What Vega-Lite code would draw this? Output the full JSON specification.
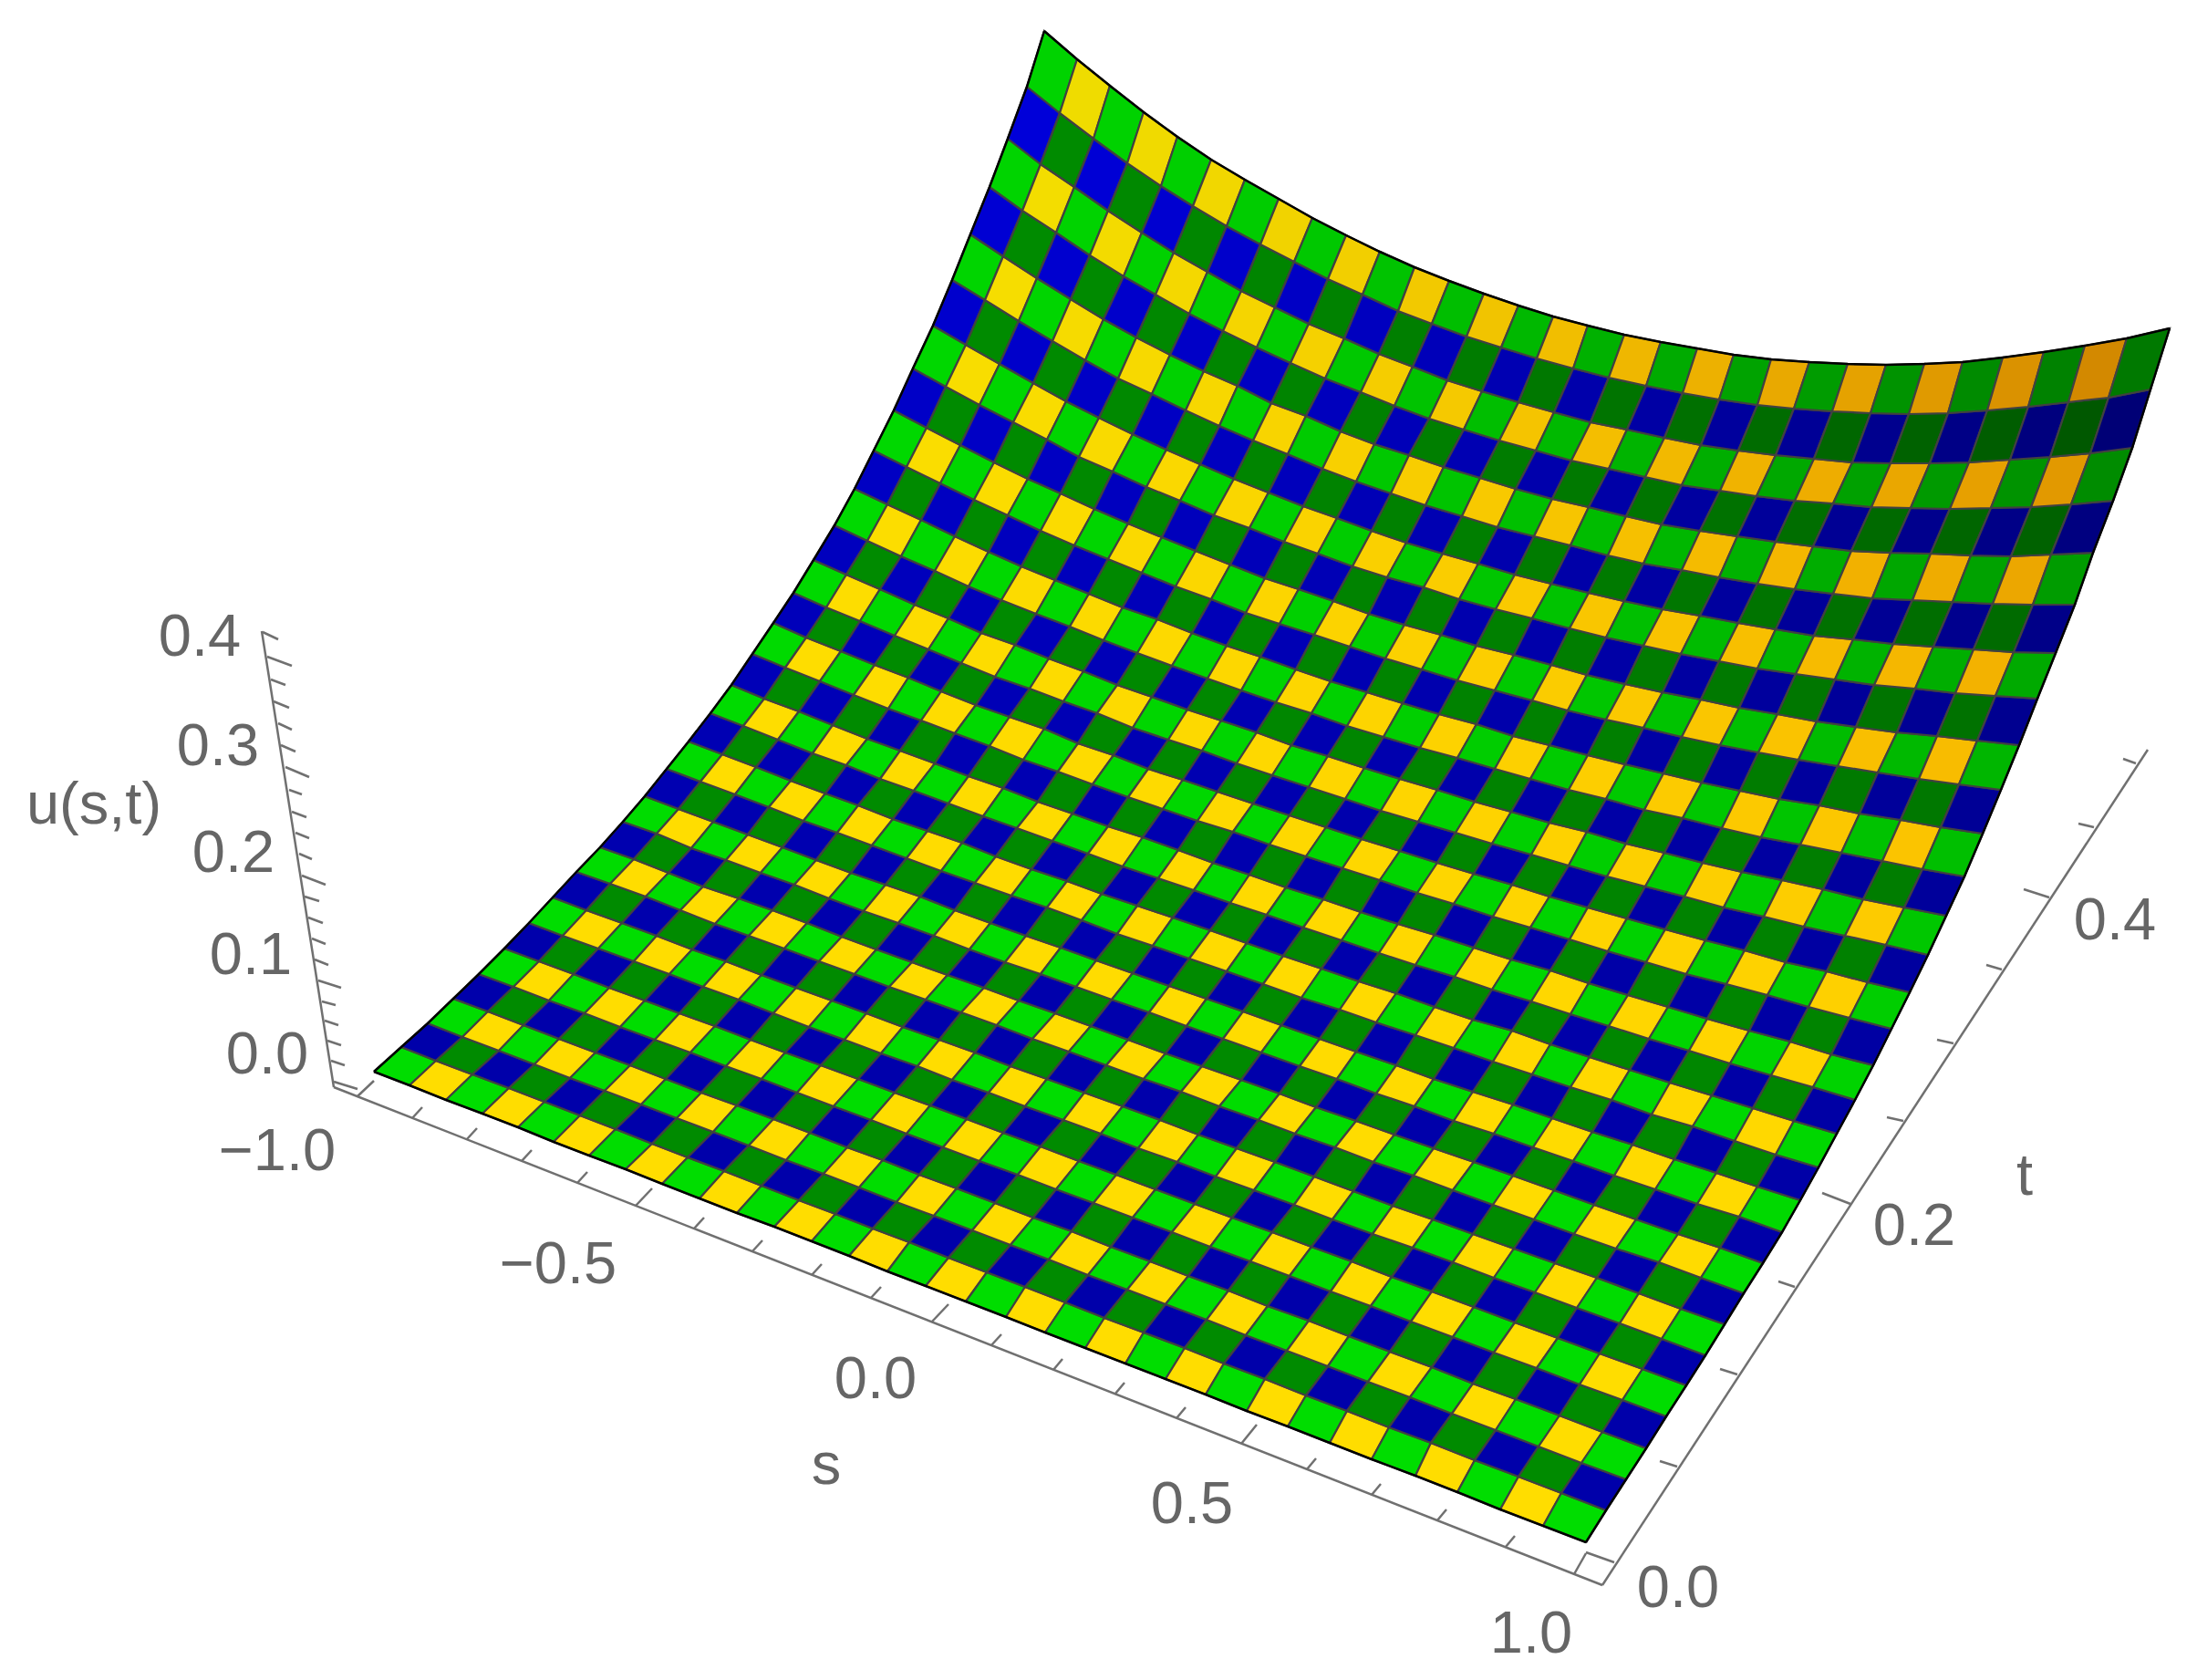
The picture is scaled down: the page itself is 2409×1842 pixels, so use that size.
{"$schema":"https://vega.github.io/schema/vega-lite/v6.json","width":2409,"height":1842,"padding":0,"autosize":{"type":"fit","contains":"padding"},"background":"white","config":{"view":{"stroke":null}},"datasets":{"mesh":[
{"s":0,"t":0,"x":410,"y":1175},{"s":1,"t":0,"x":449,"y":1190},{"s":2,"t":0,"x":489,"y":1206},{"s":3,"t":0,"x":529,"y":1221},{"s":4,"t":0,"x":568,"y":1236},{"s":5,"t":0,"x":607,"y":1252},{"s":6,"t":0,"x":646,"y":1267},{"s":7,"t":0,"x":686,"y":1282},{"s":8,"t":0,"x":726,"y":1298},{"s":9,"t":0,"x":767,"y":1314},{"s":10,"t":0,"x":808,"y":1330},{"s":11,"t":0,"x":849,"y":1345},{"s":12,"t":0,"x":890,"y":1361},{"s":13,"t":0,"x":931,"y":1377},{"s":14,"t":0,"x":973,"y":1394},{"s":15,"t":0,"x":1015,"y":1410},{"s":16,"t":0,"x":1059,"y":1427},{"s":17,"t":0,"x":1103,"y":1444},{"s":18,"t":0,"x":1146,"y":1461},{"s":19,"t":0,"x":1190,"y":1478},{"s":20,"t":0,"x":1234,"y":1495},{"s":21,"t":0,"x":1278,"y":1512},{"s":22,"t":0,"x":1322,"y":1529},{"s":23,"t":0,"x":1367,"y":1547},{"s":24,"t":0,"x":1412,"y":1564},{"s":25,"t":0,"x":1458,"y":1582},{"s":26,"t":0,"x":1504,"y":1600},{"s":27,"t":0,"x":1552,"y":1618},{"s":28,"t":0,"x":1598,"y":1636},{"s":29,"t":0,"x":1645,"y":1655},{"s":30,"t":0,"x":1692,"y":1673},{"s":31,"t":0,"x":1739,"y":1691},
{"s":0,"t":1,"x":440,"y":1148},{"s":1,"t":1,"x":478,"y":1163},{"s":2,"t":1,"x":518,"y":1178},{"s":3,"t":1,"x":558,"y":1193},{"s":4,"t":1,"x":597,"y":1208},{"s":5,"t":1,"x":636,"y":1223},{"s":6,"t":1,"x":675,"y":1238},{"s":7,"t":1,"x":715,"y":1254},{"s":8,"t":1,"x":754,"y":1269},{"s":9,"t":1,"x":794,"y":1284},{"s":10,"t":1,"x":835,"y":1300},{"s":11,"t":1,"x":876,"y":1316},{"s":12,"t":1,"x":916,"y":1331},{"s":13,"t":1,"x":957,"y":1347},{"s":14,"t":1,"x":997,"y":1362},{"s":15,"t":1,"x":1040,"y":1379},{"s":16,"t":1,"x":1082,"y":1395},{"s":17,"t":1,"x":1124,"y":1411},{"s":18,"t":1,"x":1168,"y":1428},{"s":19,"t":1,"x":1211,"y":1445},{"s":20,"t":1,"x":1254,"y":1461},{"s":21,"t":1,"x":1299,"y":1478},{"s":22,"t":1,"x":1342,"y":1495},{"s":23,"t":1,"x":1387,"y":1512},{"s":24,"t":1,"x":1432,"y":1530},{"s":25,"t":1,"x":1477,"y":1547},{"s":26,"t":1,"x":1523,"y":1565},{"s":27,"t":1,"x":1569,"y":1582},{"s":28,"t":1,"x":1617,"y":1601},{"s":29,"t":1,"x":1665,"y":1619},{"s":30,"t":1,"x":1712,"y":1637},{"s":31,"t":1,"x":1761,"y":1656},
{"s":0,"t":2,"x":469,"y":1122},{"s":1,"t":2,"x":507,"y":1137},{"s":2,"t":2,"x":547,"y":1152},{"s":3,"t":2,"x":586,"y":1167},{"s":4,"t":2,"x":625,"y":1182},{"s":5,"t":2,"x":663,"y":1196},{"s":6,"t":2,"x":703,"y":1211},{"s":7,"t":2,"x":742,"y":1226},{"s":8,"t":2,"x":782,"y":1241},{"s":9,"t":2,"x":821,"y":1256},{"s":10,"t":2,"x":862,"y":1272},{"s":11,"t":2,"x":903,"y":1287},{"s":12,"t":2,"x":942,"y":1302},{"s":13,"t":2,"x":983,"y":1318},{"s":14,"t":2,"x":1024,"y":1333},{"s":15,"t":2,"x":1066,"y":1349},{"s":16,"t":2,"x":1108,"y":1365},{"s":17,"t":2,"x":1150,"y":1381},{"s":18,"t":2,"x":1193,"y":1398},{"s":19,"t":2,"x":1236,"y":1414},{"s":20,"t":2,"x":1278,"y":1430},{"s":21,"t":2,"x":1323,"y":1447},{"s":22,"t":2,"x":1366,"y":1464},{"s":23,"t":2,"x":1411,"y":1481},{"s":24,"t":2,"x":1456,"y":1498},{"s":25,"t":2,"x":1500,"y":1515},{"s":26,"t":2,"x":1546,"y":1532},{"s":27,"t":2,"x":1592,"y":1550},{"s":28,"t":2,"x":1640,"y":1568},{"s":29,"t":2,"x":1687,"y":1586},{"s":30,"t":2,"x":1734,"y":1604},{"s":31,"t":2,"x":1783,"y":1622},
{"s":0,"t":3,"x":497,"y":1095},{"s":1,"t":3,"x":535,"y":1109},{"s":2,"t":3,"x":574,"y":1124},{"s":3,"t":3,"x":613,"y":1139},{"s":4,"t":3,"x":653,"y":1154},{"s":5,"t":3,"x":691,"y":1168},{"s":6,"t":3,"x":730,"y":1183},{"s":7,"t":3,"x":769,"y":1198},{"s":8,"t":3,"x":808,"y":1212},{"s":9,"t":3,"x":848,"y":1227},{"s":10,"t":3,"x":888,"y":1242},{"s":11,"t":3,"x":929,"y":1258},{"s":12,"t":3,"x":968,"y":1272},{"s":13,"t":3,"x":1008,"y":1288},{"s":14,"t":3,"x":1049,"y":1303},{"s":15,"t":3,"x":1091,"y":1319},{"s":16,"t":3,"x":1133,"y":1335},{"s":17,"t":3,"x":1175,"y":1350},{"s":18,"t":3,"x":1218,"y":1367},{"s":19,"t":3,"x":1261,"y":1383},{"s":20,"t":3,"x":1303,"y":1399},{"s":21,"t":3,"x":1347,"y":1415},{"s":22,"t":3,"x":1390,"y":1432},{"s":23,"t":3,"x":1435,"y":1448},{"s":24,"t":3,"x":1479,"y":1465},{"s":25,"t":3,"x":1524,"y":1482},{"s":26,"t":3,"x":1570,"y":1499},{"s":27,"t":3,"x":1615,"y":1517},{"s":28,"t":3,"x":1662,"y":1534},{"s":29,"t":3,"x":1710,"y":1552},{"s":30,"t":3,"x":1757,"y":1570},{"s":31,"t":3,"x":1805,"y":1588},
{"s":0,"t":4,"x":525,"y":1068},{"s":1,"t":4,"x":563,"y":1082},{"s":2,"t":4,"x":602,"y":1097},{"s":3,"t":4,"x":641,"y":1111},{"s":4,"t":4,"x":680,"y":1126},{"s":5,"t":4,"x":718,"y":1140},{"s":6,"t":4,"x":757,"y":1154},{"s":7,"t":4,"x":796,"y":1169},{"s":8,"t":4,"x":835,"y":1183},{"s":9,"t":4,"x":874,"y":1198},{"s":10,"t":4,"x":914,"y":1213},{"s":11,"t":4,"x":955,"y":1228},{"s":12,"t":4,"x":994,"y":1243},{"s":13,"t":4,"x":1034,"y":1258},{"s":14,"t":4,"x":1074,"y":1273},{"s":15,"t":4,"x":1116,"y":1288},{"s":16,"t":4,"x":1158,"y":1304},{"s":17,"t":4,"x":1199,"y":1319},{"s":18,"t":4,"x":1242,"y":1335},{"s":19,"t":4,"x":1285,"y":1351},{"s":20,"t":4,"x":1327,"y":1367},{"s":21,"t":4,"x":1371,"y":1383},{"s":22,"t":4,"x":1414,"y":1399},{"s":23,"t":4,"x":1459,"y":1416},{"s":24,"t":4,"x":1503,"y":1432},{"s":25,"t":4,"x":1547,"y":1449},{"s":26,"t":4,"x":1593,"y":1466},{"s":27,"t":4,"x":1638,"y":1483},{"s":28,"t":4,"x":1685,"y":1500},{"s":29,"t":4,"x":1732,"y":1518},{"s":30,"t":4,"x":1779,"y":1535},{"s":31,"t":4,"x":1827,"y":1553},
{"s":0,"t":5,"x":553,"y":1040},{"s":1,"t":5,"x":591,"y":1054},{"s":2,"t":5,"x":629,"y":1068},{"s":3,"t":5,"x":668,"y":1083},{"s":4,"t":5,"x":707,"y":1097},{"s":5,"t":5,"x":745,"y":1111},{"s":6,"t":5,"x":784,"y":1125},{"s":7,"t":5,"x":823,"y":1140},{"s":8,"t":5,"x":861,"y":1154},{"s":9,"t":5,"x":900,"y":1168},{"s":10,"t":5,"x":941,"y":1183},{"s":11,"t":5,"x":981,"y":1198},{"s":12,"t":5,"x":1020,"y":1212},{"s":13,"t":5,"x":1060,"y":1227},{"s":14,"t":5,"x":1100,"y":1242},{"s":15,"t":5,"x":1141,"y":1257},{"s":16,"t":5,"x":1183,"y":1273},{"s":17,"t":5,"x":1224,"y":1288},{"s":18,"t":5,"x":1267,"y":1304},{"s":19,"t":5,"x":1310,"y":1320},{"s":20,"t":5,"x":1351,"y":1335},{"s":21,"t":5,"x":1395,"y":1351},{"s":22,"t":5,"x":1438,"y":1367},{"s":23,"t":5,"x":1482,"y":1383},{"s":24,"t":5,"x":1526,"y":1400},{"s":25,"t":5,"x":1570,"y":1416},{"s":26,"t":5,"x":1616,"y":1433},{"s":27,"t":5,"x":1661,"y":1450},{"s":28,"t":5,"x":1708,"y":1467},{"s":29,"t":5,"x":1754,"y":1484},{"s":30,"t":5,"x":1801,"y":1501},{"s":31,"t":5,"x":1849,"y":1519},
{"s":0,"t":6,"x":580,"y":1012},{"s":1,"t":6,"x":617,"y":1026},{"s":2,"t":6,"x":656,"y":1040},{"s":3,"t":6,"x":695,"y":1054},{"s":4,"t":6,"x":734,"y":1068},{"s":5,"t":6,"x":771,"y":1082},{"s":6,"t":6,"x":810,"y":1096},{"s":7,"t":6,"x":848,"y":1111},{"s":8,"t":6,"x":887,"y":1126},{"s":9,"t":6,"x":926,"y":1140},{"s":10,"t":6,"x":966,"y":1155},{"s":11,"t":6,"x":1006,"y":1169},{"s":12,"t":6,"x":1044,"y":1184},{"s":13,"t":6,"x":1084,"y":1198},{"s":14,"t":6,"x":1124,"y":1213},{"s":15,"t":6,"x":1166,"y":1228},{"s":16,"t":6,"x":1207,"y":1243},{"s":17,"t":6,"x":1248,"y":1259},{"s":18,"t":6,"x":1291,"y":1274},{"s":19,"t":6,"x":1333,"y":1290},{"s":20,"t":6,"x":1375,"y":1305},{"s":21,"t":6,"x":1419,"y":1321},{"s":22,"t":6,"x":1461,"y":1337},{"s":23,"t":6,"x":1505,"y":1353},{"s":24,"t":6,"x":1549,"y":1368},{"s":25,"t":6,"x":1593,"y":1384},{"s":26,"t":6,"x":1638,"y":1401},{"s":27,"t":6,"x":1683,"y":1417},{"s":28,"t":6,"x":1729,"y":1434},{"s":29,"t":6,"x":1776,"y":1451},{"s":30,"t":6,"x":1822,"y":1468},{"s":31,"t":6,"x":1870,"y":1486},
{"s":0,"t":7,"x":606,"y":984},{"s":1,"t":7,"x":643,"y":998},{"s":2,"t":7,"x":682,"y":1012},{"s":3,"t":7,"x":720,"y":1026},{"s":4,"t":7,"x":759,"y":1041},{"s":5,"t":7,"x":796,"y":1054},{"s":6,"t":7,"x":835,"y":1069},{"s":7,"t":7,"x":873,"y":1083},{"s":8,"t":7,"x":912,"y":1097},{"s":9,"t":7,"x":950,"y":1111},{"s":10,"t":7,"x":990,"y":1126},{"s":11,"t":7,"x":1030,"y":1140},{"s":12,"t":7,"x":1069,"y":1154},{"s":13,"t":7,"x":1108,"y":1169},{"s":14,"t":7,"x":1148,"y":1183},{"s":15,"t":7,"x":1189,"y":1198},{"s":16,"t":7,"x":1231,"y":1213},{"s":17,"t":7,"x":1272,"y":1228},{"s":18,"t":7,"x":1314,"y":1244},{"s":19,"t":7,"x":1356,"y":1259},{"s":20,"t":7,"x":1398,"y":1274},{"s":21,"t":7,"x":1441,"y":1290},{"s":22,"t":7,"x":1484,"y":1306},{"s":23,"t":7,"x":1527,"y":1322},{"s":24,"t":7,"x":1571,"y":1337},{"s":25,"t":7,"x":1615,"y":1353},{"s":26,"t":7,"x":1660,"y":1369},{"s":27,"t":7,"x":1705,"y":1385},{"s":28,"t":7,"x":1751,"y":1401},{"s":29,"t":7,"x":1797,"y":1418},{"s":30,"t":7,"x":1843,"y":1435},{"s":31,"t":7,"x":1891,"y":1452},
{"s":0,"t":8,"x":632,"y":956},{"s":1,"t":8,"x":669,"y":969},{"s":2,"t":8,"x":708,"y":983},{"s":3,"t":8,"x":746,"y":998},{"s":4,"t":8,"x":784,"y":1013},{"s":5,"t":8,"x":821,"y":1026},{"s":6,"t":8,"x":860,"y":1040},{"s":7,"t":8,"x":898,"y":1054},{"s":8,"t":8,"x":937,"y":1068},{"s":9,"t":8,"x":975,"y":1082},{"s":10,"t":8,"x":1015,"y":1096},{"s":11,"t":8,"x":1054,"y":1110},{"s":12,"t":8,"x":1093,"y":1124},{"s":13,"t":8,"x":1132,"y":1139},{"s":14,"t":8,"x":1172,"y":1153},{"s":15,"t":8,"x":1213,"y":1168},{"s":16,"t":8,"x":1254,"y":1183},{"s":17,"t":8,"x":1295,"y":1197},{"s":18,"t":8,"x":1337,"y":1213},{"s":19,"t":8,"x":1380,"y":1228},{"s":20,"t":8,"x":1420,"y":1243},{"s":21,"t":8,"x":1464,"y":1258},{"s":22,"t":8,"x":1506,"y":1274},{"s":23,"t":8,"x":1550,"y":1289},{"s":24,"t":8,"x":1593,"y":1305},{"s":25,"t":8,"x":1637,"y":1321},{"s":26,"t":8,"x":1682,"y":1337},{"s":27,"t":8,"x":1726,"y":1353},{"s":28,"t":8,"x":1772,"y":1369},{"s":29,"t":8,"x":1819,"y":1384},{"s":30,"t":8,"x":1865,"y":1401},{"s":31,"t":8,"x":1912,"y":1418},
{"s":0,"t":9,"x":658,"y":929},{"s":1,"t":9,"x":695,"y":942},{"s":2,"t":9,"x":733,"y":957},{"s":3,"t":9,"x":771,"y":972},{"s":4,"t":9,"x":810,"y":985},{"s":5,"t":9,"x":847,"y":998},{"s":6,"t":9,"x":885,"y":1012},{"s":7,"t":9,"x":923,"y":1027},{"s":8,"t":9,"x":961,"y":1041},{"s":9,"t":9,"x":1000,"y":1055},{"s":10,"t":9,"x":1039,"y":1069},{"s":11,"t":9,"x":1079,"y":1083},{"s":12,"t":9,"x":1117,"y":1097},{"s":13,"t":9,"x":1157,"y":1111},{"s":14,"t":9,"x":1196,"y":1125},{"s":15,"t":9,"x":1237,"y":1140},{"s":16,"t":9,"x":1278,"y":1155},{"s":17,"t":9,"x":1318,"y":1169},{"s":18,"t":9,"x":1361,"y":1184},{"s":19,"t":9,"x":1403,"y":1199},{"s":20,"t":9,"x":1443,"y":1214},{"s":21,"t":9,"x":1487,"y":1229},{"s":22,"t":9,"x":1529,"y":1244},{"s":23,"t":9,"x":1572,"y":1259},{"s":24,"t":9,"x":1616,"y":1274},{"s":25,"t":9,"x":1659,"y":1289},{"s":26,"t":9,"x":1704,"y":1305},{"s":27,"t":9,"x":1748,"y":1321},{"s":28,"t":9,"x":1794,"y":1337},{"s":29,"t":9,"x":1840,"y":1353},{"s":30,"t":9,"x":1886,"y":1368},{"s":31,"t":9,"x":1933,"y":1385},
{"s":0,"t":10,"x":683,"y":901},{"s":1,"t":10,"x":720,"y":914},{"s":2,"t":10,"x":758,"y":930},{"s":3,"t":10,"x":796,"y":943},{"s":4,"t":10,"x":834,"y":957},{"s":5,"t":10,"x":871,"y":970},{"s":6,"t":10,"x":909,"y":985},{"s":7,"t":10,"x":947,"y":999},{"s":8,"t":10,"x":985,"y":1012},{"s":9,"t":10,"x":1024,"y":1026},{"s":10,"t":10,"x":1063,"y":1041},{"s":11,"t":10,"x":1102,"y":1055},{"s":12,"t":10,"x":1141,"y":1068},{"s":13,"t":10,"x":1180,"y":1082},{"s":14,"t":10,"x":1219,"y":1096},{"s":15,"t":10,"x":1260,"y":1110},{"s":16,"t":10,"x":1301,"y":1125},{"s":17,"t":10,"x":1341,"y":1139},{"s":18,"t":10,"x":1383,"y":1154},{"s":19,"t":10,"x":1425,"y":1169},{"s":20,"t":10,"x":1466,"y":1183},{"s":21,"t":10,"x":1509,"y":1199},{"s":22,"t":10,"x":1551,"y":1213},{"s":23,"t":10,"x":1594,"y":1229},{"s":24,"t":10,"x":1638,"y":1243},{"s":25,"t":10,"x":1681,"y":1258},{"s":26,"t":10,"x":1725,"y":1273},{"s":27,"t":10,"x":1770,"y":1289},{"s":28,"t":10,"x":1815,"y":1304},{"s":29,"t":10,"x":1861,"y":1320},{"s":30,"t":10,"x":1907,"y":1334},{"s":31,"t":10,"x":1954,"y":1351},
{"s":0,"t":11,"x":707,"y":873},{"s":1,"t":11,"x":744,"y":887},{"s":2,"t":11,"x":782,"y":901},{"s":3,"t":11,"x":820,"y":915},{"s":4,"t":11,"x":858,"y":929},{"s":5,"t":11,"x":895,"y":943},{"s":6,"t":11,"x":933,"y":957},{"s":7,"t":11,"x":971,"y":970},{"s":8,"t":11,"x":1009,"y":983},{"s":9,"t":11,"x":1047,"y":998},{"s":10,"t":11,"x":1086,"y":1012},{"s":11,"t":11,"x":1125,"y":1026},{"s":12,"t":11,"x":1163,"y":1039},{"s":13,"t":11,"x":1202,"y":1053},{"s":14,"t":11,"x":1242,"y":1067},{"s":15,"t":11,"x":1282,"y":1081},{"s":16,"t":11,"x":1323,"y":1095},{"s":17,"t":11,"x":1363,"y":1109},{"s":18,"t":11,"x":1405,"y":1124},{"s":19,"t":11,"x":1447,"y":1139},{"s":20,"t":11,"x":1487,"y":1153},{"s":21,"t":11,"x":1531,"y":1168},{"s":22,"t":11,"x":1572,"y":1183},{"s":23,"t":11,"x":1615,"y":1197},{"s":24,"t":11,"x":1659,"y":1211},{"s":25,"t":11,"x":1702,"y":1226},{"s":26,"t":11,"x":1746,"y":1241},{"s":27,"t":11,"x":1790,"y":1255},{"s":28,"t":11,"x":1836,"y":1271},{"s":29,"t":11,"x":1882,"y":1286},{"s":30,"t":11,"x":1927,"y":1301},{"s":31,"t":11,"x":1974,"y":1316},
{"s":0,"t":12,"x":731,"y":843},{"s":1,"t":12,"x":768,"y":857},{"s":2,"t":12,"x":806,"y":871},{"s":3,"t":12,"x":843,"y":885},{"s":4,"t":12,"x":881,"y":900},{"s":5,"t":12,"x":918,"y":913},{"s":6,"t":12,"x":956,"y":927},{"s":7,"t":12,"x":994,"y":941},{"s":8,"t":12,"x":1032,"y":955},{"s":9,"t":12,"x":1069,"y":968},{"s":10,"t":12,"x":1109,"y":982},{"s":11,"t":12,"x":1148,"y":995},{"s":12,"t":12,"x":1186,"y":1009},{"s":13,"t":12,"x":1225,"y":1024},{"s":14,"t":12,"x":1264,"y":1037},{"s":15,"t":12,"x":1304,"y":1051},{"s":16,"t":12,"x":1345,"y":1065},{"s":17,"t":12,"x":1385,"y":1079},{"s":18,"t":12,"x":1427,"y":1094},{"s":19,"t":12,"x":1469,"y":1107},{"s":20,"t":12,"x":1509,"y":1121},{"s":21,"t":12,"x":1552,"y":1135},{"s":22,"t":12,"x":1594,"y":1149},{"s":23,"t":12,"x":1637,"y":1164},{"s":24,"t":12,"x":1680,"y":1178},{"s":25,"t":12,"x":1722,"y":1192},{"s":26,"t":12,"x":1767,"y":1206},{"s":27,"t":12,"x":1811,"y":1222},{"s":28,"t":12,"x":1856,"y":1235},{"s":29,"t":12,"x":1902,"y":1251},{"s":30,"t":12,"x":1947,"y":1266},{"s":31,"t":12,"x":1994,"y":1280},
{"s":0,"t":13,"x":755,"y":813},{"s":1,"t":13,"x":792,"y":827},{"s":2,"t":13,"x":829,"y":841},{"s":3,"t":13,"x":867,"y":856},{"s":4,"t":13,"x":905,"y":870},{"s":5,"t":13,"x":941,"y":883},{"s":6,"t":13,"x":979,"y":898},{"s":7,"t":13,"x":1017,"y":911},{"s":8,"t":13,"x":1055,"y":924},{"s":9,"t":13,"x":1092,"y":939},{"s":10,"t":13,"x":1131,"y":953},{"s":11,"t":13,"x":1170,"y":966},{"s":12,"t":13,"x":1208,"y":980},{"s":13,"t":13,"x":1247,"y":993},{"s":14,"t":13,"x":1286,"y":1006},{"s":15,"t":13,"x":1327,"y":1020},{"s":16,"t":13,"x":1367,"y":1034},{"s":17,"t":13,"x":1407,"y":1048},{"s":18,"t":13,"x":1449,"y":1062},{"s":19,"t":13,"x":1490,"y":1076},{"s":20,"t":13,"x":1531,"y":1089},{"s":21,"t":13,"x":1573,"y":1104},{"s":22,"t":13,"x":1615,"y":1118},{"s":23,"t":13,"x":1658,"y":1130},{"s":24,"t":13,"x":1700,"y":1145},{"s":25,"t":13,"x":1743,"y":1159},{"s":26,"t":13,"x":1787,"y":1173},{"s":27,"t":13,"x":1831,"y":1187},{"s":28,"t":13,"x":1877,"y":1201},{"s":29,"t":13,"x":1922,"y":1215},{"s":30,"t":13,"x":1967,"y":1229},{"s":31,"t":13,"x":2014,"y":1243},
{"s":0,"t":14,"x":779,"y":782},{"s":1,"t":14,"x":815,"y":796},{"s":2,"t":14,"x":853,"y":811},{"s":3,"t":14,"x":891,"y":826},{"s":4,"t":14,"x":928,"y":839},{"s":5,"t":14,"x":965,"y":854},{"s":6,"t":14,"x":1002,"y":867},{"s":7,"t":14,"x":1040,"y":881},{"s":8,"t":14,"x":1078,"y":895},{"s":9,"t":14,"x":1115,"y":908},{"s":10,"t":14,"x":1154,"y":922},{"s":11,"t":14,"x":1193,"y":936},{"s":12,"t":14,"x":1231,"y":950},{"s":13,"t":14,"x":1270,"y":963},{"s":14,"t":14,"x":1309,"y":976},{"s":15,"t":14,"x":1349,"y":990},{"s":16,"t":14,"x":1389,"y":1003},{"s":17,"t":14,"x":1429,"y":1017},{"s":18,"t":14,"x":1471,"y":1031},{"s":19,"t":14,"x":1512,"y":1045},{"s":20,"t":14,"x":1552,"y":1058},{"s":21,"t":14,"x":1595,"y":1071},{"s":22,"t":14,"x":1636,"y":1085},{"s":23,"t":14,"x":1679,"y":1098},{"s":24,"t":14,"x":1722,"y":1112},{"s":25,"t":14,"x":1764,"y":1125},{"s":26,"t":14,"x":1808,"y":1139},{"s":27,"t":14,"x":1852,"y":1152},{"s":28,"t":14,"x":1897,"y":1166},{"s":29,"t":14,"x":1942,"y":1179},{"s":30,"t":14,"x":1988,"y":1192},{"s":31,"t":14,"x":2034,"y":1206},
{"s":0,"t":15,"x":802,"y":751},{"s":1,"t":15,"x":838,"y":766},{"s":2,"t":15,"x":876,"y":780},{"s":3,"t":15,"x":913,"y":795},{"s":4,"t":15,"x":951,"y":810},{"s":5,"t":15,"x":987,"y":823},{"s":6,"t":15,"x":1025,"y":837},{"s":7,"t":15,"x":1062,"y":851},{"s":8,"t":15,"x":1100,"y":864},{"s":9,"t":15,"x":1138,"y":879},{"s":10,"t":15,"x":1176,"y":892},{"s":11,"t":15,"x":1215,"y":906},{"s":12,"t":15,"x":1253,"y":918},{"s":13,"t":15,"x":1292,"y":932},{"s":14,"t":15,"x":1330,"y":946},{"s":15,"t":15,"x":1370,"y":959},{"s":16,"t":15,"x":1410,"y":973},{"s":17,"t":15,"x":1451,"y":986},{"s":18,"t":15,"x":1492,"y":1000},{"s":19,"t":15,"x":1533,"y":1013},{"s":20,"t":15,"x":1573,"y":1025},{"s":21,"t":15,"x":1616,"y":1039},{"s":22,"t":15,"x":1657,"y":1052},{"s":23,"t":15,"x":1700,"y":1064},{"s":24,"t":15,"x":1742,"y":1078},{"s":25,"t":15,"x":1785,"y":1091},{"s":26,"t":15,"x":1829,"y":1104},{"s":27,"t":15,"x":1872,"y":1117},{"s":28,"t":15,"x":1918,"y":1130},{"s":29,"t":15,"x":1963,"y":1142},{"s":30,"t":15,"x":2008,"y":1156},{"s":31,"t":15,"x":2054,"y":1168},
{"s":0,"t":16,"x":825,"y":717},{"s":1,"t":16,"x":861,"y":732},{"s":2,"t":16,"x":899,"y":747},{"s":3,"t":16,"x":936,"y":762},{"s":4,"t":16,"x":974,"y":777},{"s":5,"t":16,"x":1010,"y":790},{"s":6,"t":16,"x":1047,"y":804},{"s":7,"t":16,"x":1085,"y":818},{"s":8,"t":16,"x":1122,"y":833},{"s":9,"t":16,"x":1160,"y":846},{"s":10,"t":16,"x":1198,"y":860},{"s":11,"t":16,"x":1237,"y":874},{"s":12,"t":16,"x":1275,"y":887},{"s":13,"t":16,"x":1313,"y":900},{"s":14,"t":16,"x":1352,"y":912},{"s":15,"t":16,"x":1392,"y":926},{"s":16,"t":16,"x":1432,"y":939},{"s":17,"t":16,"x":1472,"y":952},{"s":18,"t":16,"x":1513,"y":965},{"s":19,"t":16,"x":1554,"y":979},{"s":20,"t":16,"x":1594,"y":991},{"s":21,"t":16,"x":1637,"y":1005},{"s":22,"t":16,"x":1678,"y":1017},{"s":23,"t":16,"x":1721,"y":1030},{"s":24,"t":16,"x":1763,"y":1043},{"s":25,"t":16,"x":1805,"y":1055},{"s":26,"t":16,"x":1849,"y":1068},{"s":27,"t":16,"x":1893,"y":1079},{"s":28,"t":16,"x":1938,"y":1091},{"s":29,"t":16,"x":1983,"y":1104},{"s":30,"t":16,"x":2028,"y":1116},{"s":31,"t":16,"x":2074,"y":1128},
{"s":0,"t":17,"x":848,"y":683},{"s":1,"t":17,"x":884,"y":699},{"s":2,"t":17,"x":922,"y":714},{"s":3,"t":17,"x":959,"y":729},{"s":4,"t":17,"x":996,"y":743},{"s":5,"t":17,"x":1032,"y":758},{"s":6,"t":17,"x":1070,"y":773},{"s":7,"t":17,"x":1107,"y":786},{"s":8,"t":17,"x":1145,"y":799},{"s":9,"t":17,"x":1182,"y":815},{"s":10,"t":17,"x":1221,"y":828},{"s":11,"t":17,"x":1259,"y":843},{"s":12,"t":17,"x":1297,"y":855},{"s":13,"t":17,"x":1335,"y":868},{"s":14,"t":17,"x":1374,"y":881},{"s":15,"t":17,"x":1414,"y":894},{"s":16,"t":17,"x":1454,"y":907},{"s":17,"t":17,"x":1493,"y":920},{"s":18,"t":17,"x":1535,"y":933},{"s":19,"t":17,"x":1576,"y":946},{"s":20,"t":17,"x":1616,"y":958},{"s":21,"t":17,"x":1658,"y":970},{"s":22,"t":17,"x":1699,"y":983},{"s":23,"t":17,"x":1741,"y":995},{"s":24,"t":17,"x":1784,"y":1007},{"s":25,"t":17,"x":1826,"y":1019},{"s":26,"t":17,"x":1870,"y":1031},{"s":27,"t":17,"x":1913,"y":1042},{"s":28,"t":17,"x":1958,"y":1055},{"s":29,"t":17,"x":2003,"y":1065},{"s":30,"t":17,"x":2048,"y":1077},{"s":31,"t":17,"x":2094,"y":1088},
{"s":0,"t":18,"x":870,"y":650},{"s":1,"t":18,"x":906,"y":666},{"s":2,"t":18,"x":943,"y":681},{"s":3,"t":18,"x":981,"y":697},{"s":4,"t":18,"x":1018,"y":712},{"s":5,"t":18,"x":1054,"y":727},{"s":6,"t":18,"x":1091,"y":742},{"s":7,"t":18,"x":1129,"y":755},{"s":8,"t":18,"x":1166,"y":769},{"s":9,"t":18,"x":1203,"y":782},{"s":10,"t":18,"x":1242,"y":798},{"s":11,"t":18,"x":1281,"y":811},{"s":12,"t":18,"x":1318,"y":823},{"s":13,"t":18,"x":1356,"y":837},{"s":14,"t":18,"x":1395,"y":850},{"s":15,"t":18,"x":1435,"y":863},{"s":16,"t":18,"x":1475,"y":876},{"s":17,"t":18,"x":1514,"y":889},{"s":18,"t":18,"x":1555,"y":901},{"s":19,"t":18,"x":1596,"y":913},{"s":20,"t":18,"x":1636,"y":925},{"s":21,"t":18,"x":1679,"y":937},{"s":22,"t":18,"x":1720,"y":949},{"s":23,"t":18,"x":1762,"y":961},{"s":24,"t":18,"x":1804,"y":972},{"s":25,"t":18,"x":1847,"y":983},{"s":26,"t":18,"x":1890,"y":995},{"s":27,"t":18,"x":1934,"y":1005},{"s":28,"t":18,"x":1978,"y":1016},{"s":29,"t":18,"x":2023,"y":1026},{"s":30,"t":18,"x":2068,"y":1036},{"s":31,"t":18,"x":2114,"y":1047},
{"s":0,"t":19,"x":892,"y":614},{"s":1,"t":19,"x":928,"y":630},{"s":2,"t":19,"x":965,"y":646},{"s":3,"t":19,"x":1003,"y":663},{"s":4,"t":19,"x":1040,"y":678},{"s":5,"t":19,"x":1076,"y":694},{"s":6,"t":19,"x":1113,"y":707},{"s":7,"t":19,"x":1150,"y":722},{"s":8,"t":19,"x":1188,"y":736},{"s":9,"t":19,"x":1225,"y":751},{"s":10,"t":19,"x":1263,"y":764},{"s":11,"t":19,"x":1302,"y":778},{"s":12,"t":19,"x":1339,"y":790},{"s":13,"t":19,"x":1378,"y":803},{"s":14,"t":19,"x":1416,"y":817},{"s":15,"t":19,"x":1456,"y":829},{"s":16,"t":19,"x":1496,"y":842},{"s":17,"t":19,"x":1535,"y":854},{"s":18,"t":19,"x":1576,"y":866},{"s":19,"t":19,"x":1617,"y":879},{"s":20,"t":19,"x":1657,"y":890},{"s":21,"t":19,"x":1699,"y":902},{"s":22,"t":19,"x":1740,"y":912},{"s":23,"t":19,"x":1783,"y":925},{"s":24,"t":19,"x":1825,"y":935},{"s":25,"t":19,"x":1867,"y":946},{"s":26,"t":19,"x":1910,"y":956},{"s":27,"t":19,"x":1954,"y":965},{"s":28,"t":19,"x":1999,"y":975},{"s":29,"t":19,"x":2043,"y":986},{"s":30,"t":19,"x":2088,"y":995},{"s":31,"t":19,"x":2134,"y":1004},
{"s":0,"t":20,"x":915,"y":576},{"s":1,"t":20,"x":951,"y":593},{"s":2,"t":20,"x":988,"y":610},{"s":3,"t":20,"x":1025,"y":626},{"s":4,"t":20,"x":1062,"y":643},{"s":5,"t":20,"x":1098,"y":658},{"s":6,"t":20,"x":1136,"y":673},{"s":7,"t":20,"x":1173,"y":687},{"s":8,"t":20,"x":1210,"y":702},{"s":9,"t":20,"x":1247,"y":716},{"s":10,"t":20,"x":1285,"y":730},{"s":11,"t":20,"x":1324,"y":744},{"s":12,"t":20,"x":1361,"y":757},{"s":13,"t":20,"x":1399,"y":770},{"s":14,"t":20,"x":1438,"y":782},{"s":15,"t":20,"x":1477,"y":796},{"s":16,"t":20,"x":1517,"y":808},{"s":17,"t":20,"x":1557,"y":820},{"s":18,"t":20,"x":1598,"y":831},{"s":19,"t":20,"x":1639,"y":843},{"s":20,"t":20,"x":1678,"y":854},{"s":21,"t":20,"x":1720,"y":866},{"s":22,"t":20,"x":1761,"y":876},{"s":23,"t":20,"x":1803,"y":888},{"s":24,"t":20,"x":1845,"y":897},{"s":25,"t":20,"x":1888,"y":908},{"s":26,"t":20,"x":1931,"y":918},{"s":27,"t":20,"x":1974,"y":926},{"s":28,"t":20,"x":2019,"y":935},{"s":29,"t":20,"x":2064,"y":944},{"s":30,"t":20,"x":2108,"y":953},{"s":31,"t":20,"x":2154,"y":961},
{"s":0,"t":21,"x":937,"y":536},{"s":1,"t":21,"x":973,"y":553},{"s":2,"t":21,"x":1010,"y":570},{"s":3,"t":21,"x":1047,"y":588},{"s":4,"t":21,"x":1084,"y":605},{"s":5,"t":21,"x":1120,"y":621},{"s":6,"t":21,"x":1157,"y":636},{"s":7,"t":21,"x":1194,"y":651},{"s":8,"t":21,"x":1231,"y":666},{"s":9,"t":21,"x":1269,"y":679},{"s":10,"t":21,"x":1307,"y":694},{"s":11,"t":21,"x":1345,"y":708},{"s":12,"t":21,"x":1382,"y":720},{"s":13,"t":21,"x":1421,"y":734},{"s":14,"t":21,"x":1459,"y":747},{"s":15,"t":21,"x":1499,"y":759},{"s":16,"t":21,"x":1538,"y":771},{"s":17,"t":21,"x":1578,"y":783},{"s":18,"t":21,"x":1619,"y":794},{"s":19,"t":21,"x":1659,"y":807},{"s":20,"t":21,"x":1699,"y":817},{"s":21,"t":21,"x":1741,"y":828},{"s":22,"t":21,"x":1782,"y":838},{"s":23,"t":21,"x":1824,"y":848},{"s":24,"t":21,"x":1866,"y":858},{"s":25,"t":21,"x":1908,"y":867},{"s":26,"t":21,"x":1951,"y":876},{"s":27,"t":21,"x":1995,"y":883},{"s":28,"t":21,"x":2039,"y":892},{"s":29,"t":21,"x":2084,"y":899},{"s":30,"t":21,"x":2128,"y":907},{"s":31,"t":21,"x":2174,"y":914},
{"s":0,"t":22,"x":958,"y":494},{"s":1,"t":22,"x":994,"y":512},{"s":2,"t":22,"x":1031,"y":530},{"s":3,"t":22,"x":1068,"y":548},{"s":4,"t":22,"x":1105,"y":565},{"s":5,"t":22,"x":1141,"y":582},{"s":6,"t":22,"x":1178,"y":598},{"s":7,"t":22,"x":1215,"y":613},{"s":8,"t":22,"x":1252,"y":628},{"s":9,"t":22,"x":1289,"y":643},{"s":10,"t":22,"x":1328,"y":657},{"s":11,"t":22,"x":1366,"y":672},{"s":12,"t":22,"x":1403,"y":684},{"s":13,"t":22,"x":1441,"y":696},{"s":14,"t":22,"x":1480,"y":709},{"s":15,"t":22,"x":1519,"y":722},{"s":16,"t":22,"x":1559,"y":734},{"s":17,"t":22,"x":1598,"y":746},{"s":18,"t":22,"x":1639,"y":757},{"s":19,"t":22,"x":1680,"y":768},{"s":20,"t":22,"x":1719,"y":779},{"s":21,"t":22,"x":1761,"y":789},{"s":22,"t":22,"x":1802,"y":798},{"s":23,"t":22,"x":1844,"y":808},{"s":24,"t":22,"x":1886,"y":817},{"s":25,"t":22,"x":1928,"y":825},{"s":26,"t":22,"x":1972,"y":833},{"s":27,"t":22,"x":2015,"y":840},{"s":28,"t":22,"x":2059,"y":847},{"s":29,"t":22,"x":2104,"y":854},{"s":30,"t":22,"x":2148,"y":860},{"s":31,"t":22,"x":2194,"y":866},
{"s":0,"t":23,"x":980,"y":450},{"s":1,"t":23,"x":1016,"y":469},{"s":2,"t":23,"x":1053,"y":488},{"s":3,"t":23,"x":1090,"y":507},{"s":4,"t":23,"x":1127,"y":525},{"s":5,"t":23,"x":1163,"y":541},{"s":6,"t":23,"x":1200,"y":558},{"s":7,"t":23,"x":1237,"y":574},{"s":8,"t":23,"x":1274,"y":589},{"s":9,"t":23,"x":1311,"y":604},{"s":10,"t":23,"x":1349,"y":619},{"s":11,"t":23,"x":1387,"y":634},{"s":12,"t":23,"x":1424,"y":646},{"s":13,"t":23,"x":1462,"y":659},{"s":14,"t":23,"x":1501,"y":673},{"s":15,"t":23,"x":1540,"y":685},{"s":16,"t":23,"x":1580,"y":696},{"s":17,"t":23,"x":1619,"y":708},{"s":18,"t":23,"x":1660,"y":718},{"s":19,"t":23,"x":1701,"y":729},{"s":20,"t":23,"x":1740,"y":740},{"s":21,"t":23,"x":1782,"y":750},{"s":22,"t":23,"x":1823,"y":759},{"s":23,"t":23,"x":1865,"y":767},{"s":24,"t":23,"x":1907,"y":776},{"s":25,"t":23,"x":1949,"y":783},{"s":26,"t":23,"x":1992,"y":791},{"s":27,"t":23,"x":2035,"y":797},{"s":28,"t":23,"x":2080,"y":803},{"s":29,"t":23,"x":2124,"y":807},{"s":30,"t":23,"x":2168,"y":812},{"s":31,"t":23,"x":2214,"y":817},
{"s":0,"t":24,"x":1001,"y":404},{"s":1,"t":24,"x":1037,"y":424},{"s":2,"t":24,"x":1074,"y":444},{"s":3,"t":24,"x":1111,"y":463},{"s":4,"t":24,"x":1148,"y":482},{"s":5,"t":24,"x":1183,"y":501},{"s":6,"t":24,"x":1220,"y":517},{"s":7,"t":24,"x":1257,"y":534},{"s":8,"t":24,"x":1294,"y":549},{"s":9,"t":24,"x":1331,"y":565},{"s":10,"t":24,"x":1370,"y":579},{"s":11,"t":24,"x":1408,"y":594},{"s":12,"t":24,"x":1445,"y":607},{"s":13,"t":24,"x":1483,"y":621},{"s":14,"t":24,"x":1521,"y":633},{"s":15,"t":24,"x":1561,"y":644},{"s":16,"t":24,"x":1600,"y":657},{"s":17,"t":24,"x":1640,"y":668},{"s":18,"t":24,"x":1680,"y":678},{"s":19,"t":24,"x":1721,"y":689},{"s":20,"t":24,"x":1761,"y":699},{"s":21,"t":24,"x":1802,"y":708},{"s":22,"t":24,"x":1843,"y":717},{"s":23,"t":24,"x":1885,"y":725},{"s":24,"t":24,"x":1927,"y":733},{"s":25,"t":24,"x":1969,"y":739},{"s":26,"t":24,"x":2012,"y":745},{"s":27,"t":24,"x":2055,"y":751},{"s":28,"t":24,"x":2100,"y":755},{"s":29,"t":24,"x":2144,"y":760},{"s":30,"t":24,"x":2188,"y":763},{"s":31,"t":24,"x":2234,"y":766},
{"s":0,"t":25,"x":1023,"y":357},{"s":1,"t":25,"x":1059,"y":378},{"s":2,"t":25,"x":1096,"y":399},{"s":3,"t":25,"x":1133,"y":420},{"s":4,"t":25,"x":1169,"y":440},{"s":5,"t":25,"x":1205,"y":458},{"s":6,"t":25,"x":1242,"y":476},{"s":7,"t":25,"x":1279,"y":493},{"s":8,"t":25,"x":1316,"y":509},{"s":9,"t":25,"x":1353,"y":525},{"s":10,"t":25,"x":1391,"y":540},{"s":11,"t":25,"x":1429,"y":555},{"s":12,"t":25,"x":1466,"y":568},{"s":13,"t":25,"x":1504,"y":582},{"s":14,"t":25,"x":1542,"y":595},{"s":15,"t":25,"x":1582,"y":607},{"s":16,"t":25,"x":1621,"y":618},{"s":17,"t":25,"x":1661,"y":630},{"s":18,"t":25,"x":1701,"y":640},{"s":19,"t":25,"x":1742,"y":650},{"s":20,"t":25,"x":1781,"y":659},{"s":21,"t":25,"x":1823,"y":668},{"s":22,"t":25,"x":1864,"y":675},{"s":23,"t":25,"x":1906,"y":683},{"s":24,"t":25,"x":1947,"y":690},{"s":25,"t":25,"x":1989,"y":697},{"s":26,"t":25,"x":2032,"y":701},{"s":27,"t":25,"x":2076,"y":706},{"s":28,"t":25,"x":2120,"y":709},{"s":29,"t":25,"x":2164,"y":712},{"s":30,"t":25,"x":2208,"y":715},{"s":31,"t":25,"x":2254,"y":716},
{"s":0,"t":26,"x":1044,"y":307},{"s":1,"t":26,"x":1080,"y":329},{"s":2,"t":26,"x":1117,"y":352},{"s":3,"t":26,"x":1154,"y":374},{"s":4,"t":26,"x":1190,"y":395},{"s":5,"t":26,"x":1226,"y":415},{"s":6,"t":26,"x":1263,"y":432},{"s":7,"t":26,"x":1300,"y":450},{"s":8,"t":26,"x":1337,"y":467},{"s":9,"t":26,"x":1374,"y":483},{"s":10,"t":26,"x":1412,"y":498},{"s":11,"t":26,"x":1450,"y":514},{"s":12,"t":26,"x":1487,"y":528},{"s":13,"t":26,"x":1525,"y":541},{"s":14,"t":26,"x":1563,"y":554},{"s":15,"t":26,"x":1603,"y":566},{"s":16,"t":26,"x":1642,"y":578},{"s":17,"t":26,"x":1682,"y":588},{"s":18,"t":26,"x":1722,"y":598},{"s":19,"t":26,"x":1763,"y":609},{"s":20,"t":26,"x":1802,"y":618},{"s":21,"t":26,"x":1844,"y":625},{"s":22,"t":26,"x":1885,"y":633},{"s":23,"t":26,"x":1927,"y":640},{"s":24,"t":26,"x":1968,"y":646},{"s":25,"t":26,"x":2010,"y":651},{"s":26,"t":26,"x":2053,"y":656},{"s":27,"t":26,"x":2097,"y":658},{"s":28,"t":26,"x":2141,"y":660},{"s":29,"t":26,"x":2185,"y":662},{"s":30,"t":26,"x":2229,"y":663},{"s":31,"t":26,"x":2275,"y":663},
{"s":0,"t":27,"x":1064,"y":257},{"s":1,"t":27,"x":1100,"y":281},{"s":2,"t":27,"x":1137,"y":305},{"s":3,"t":27,"x":1174,"y":328},{"s":4,"t":27,"x":1210,"y":350},{"s":5,"t":27,"x":1246,"y":370},{"s":6,"t":27,"x":1283,"y":389},{"s":7,"t":27,"x":1320,"y":407},{"s":8,"t":27,"x":1357,"y":423},{"s":9,"t":27,"x":1394,"y":442},{"s":10,"t":27,"x":1432,"y":456},{"s":11,"t":27,"x":1470,"y":473},{"s":12,"t":27,"x":1507,"y":487},{"s":13,"t":27,"x":1545,"y":499},{"s":14,"t":27,"x":1583,"y":512},{"s":15,"t":27,"x":1623,"y":524},{"s":16,"t":27,"x":1662,"y":536},{"s":17,"t":27,"x":1702,"y":547},{"s":18,"t":27,"x":1742,"y":556},{"s":19,"t":27,"x":1783,"y":566},{"s":20,"t":27,"x":1822,"y":575},{"s":21,"t":27,"x":1864,"y":582},{"s":22,"t":27,"x":1905,"y":588},{"s":23,"t":27,"x":1947,"y":594},{"s":24,"t":27,"x":1988,"y":599},{"s":25,"t":27,"x":2030,"y":604},{"s":26,"t":27,"x":2073,"y":606},{"s":27,"t":27,"x":2117,"y":607},{"s":28,"t":27,"x":2161,"y":609},{"s":29,"t":27,"x":2205,"y":610},{"s":30,"t":27,"x":2249,"y":608},{"s":31,"t":27,"x":2295,"y":606},
{"s":0,"t":28,"x":1085,"y":205},{"s":1,"t":28,"x":1121,"y":231},{"s":2,"t":28,"x":1158,"y":255},{"s":3,"t":28,"x":1195,"y":280},{"s":4,"t":28,"x":1232,"y":303},{"s":5,"t":28,"x":1267,"y":323},{"s":6,"t":28,"x":1304,"y":344},{"s":7,"t":28,"x":1341,"y":363},{"s":8,"t":28,"x":1378,"y":381},{"s":9,"t":28,"x":1415,"y":398},{"s":10,"t":28,"x":1453,"y":415},{"s":11,"t":28,"x":1492,"y":430},{"s":12,"t":28,"x":1529,"y":445},{"s":13,"t":28,"x":1567,"y":459},{"s":14,"t":28,"x":1605,"y":471},{"s":15,"t":28,"x":1644,"y":483},{"s":16,"t":28,"x":1684,"y":494},{"s":17,"t":28,"x":1723,"y":505},{"s":18,"t":28,"x":1764,"y":514},{"s":19,"t":28,"x":1804,"y":523},{"s":20,"t":28,"x":1844,"y":532},{"s":21,"t":28,"x":1886,"y":538},{"s":22,"t":28,"x":1926,"y":544},{"s":23,"t":28,"x":1968,"y":549},{"s":24,"t":28,"x":2010,"y":552},{"s":25,"t":28,"x":2052,"y":556},{"s":26,"t":28,"x":2095,"y":557},{"s":27,"t":28,"x":2138,"y":558},{"s":28,"t":28,"x":2183,"y":557},{"s":29,"t":28,"x":2227,"y":556},{"s":30,"t":28,"x":2271,"y":553},{"s":31,"t":28,"x":2317,"y":549},
{"s":0,"t":29,"x":1105,"y":152},{"s":1,"t":29,"x":1141,"y":180},{"s":2,"t":29,"x":1178,"y":205},{"s":3,"t":29,"x":1215,"y":231},{"s":4,"t":29,"x":1252,"y":255},{"s":5,"t":29,"x":1287,"y":277},{"s":6,"t":29,"x":1324,"y":298},{"s":7,"t":29,"x":1361,"y":319},{"s":8,"t":29,"x":1398,"y":337},{"s":9,"t":29,"x":1435,"y":355},{"s":10,"t":29,"x":1474,"y":371},{"s":11,"t":29,"x":1512,"y":388},{"s":12,"t":29,"x":1549,"y":402},{"s":13,"t":29,"x":1587,"y":417},{"s":14,"t":29,"x":1625,"y":429},{"s":15,"t":29,"x":1665,"y":441},{"s":16,"t":29,"x":1704,"y":452},{"s":17,"t":29,"x":1744,"y":463},{"s":18,"t":29,"x":1784,"y":471},{"s":19,"t":29,"x":1825,"y":480},{"s":20,"t":29,"x":1865,"y":488},{"s":21,"t":29,"x":1906,"y":494},{"s":22,"t":29,"x":1947,"y":499},{"s":23,"t":29,"x":1989,"y":503},{"s":24,"t":29,"x":2031,"y":507},{"s":25,"t":29,"x":2073,"y":508},{"s":26,"t":29,"x":2116,"y":508},{"s":27,"t":29,"x":2159,"y":507},{"s":28,"t":29,"x":2204,"y":504},{"s":29,"t":29,"x":2248,"y":501},{"s":30,"t":29,"x":2292,"y":497},{"s":31,"t":29,"x":2338,"y":491},
{"s":0,"t":30,"x":1126,"y":95},{"s":1,"t":30,"x":1162,"y":124},{"s":2,"t":30,"x":1199,"y":152},{"s":3,"t":30,"x":1236,"y":179},{"s":4,"t":30,"x":1273,"y":204},{"s":5,"t":30,"x":1308,"y":226},{"s":6,"t":30,"x":1345,"y":248},{"s":7,"t":30,"x":1382,"y":268},{"s":8,"t":30,"x":1419,"y":287},{"s":9,"t":30,"x":1456,"y":306},{"s":10,"t":30,"x":1494,"y":323},{"s":11,"t":30,"x":1533,"y":341},{"s":12,"t":30,"x":1570,"y":355},{"s":13,"t":30,"x":1608,"y":369},{"s":14,"t":30,"x":1646,"y":381},{"s":15,"t":30,"x":1685,"y":393},{"s":16,"t":30,"x":1725,"y":404},{"s":17,"t":30,"x":1764,"y":414},{"s":18,"t":30,"x":1805,"y":423},{"s":19,"t":30,"x":1845,"y":431},{"s":20,"t":30,"x":1885,"y":438},{"s":21,"t":30,"x":1927,"y":444},{"s":22,"t":30,"x":1967,"y":448},{"s":23,"t":30,"x":2009,"y":451},{"s":24,"t":30,"x":2051,"y":453},{"s":25,"t":30,"x":2093,"y":454},{"s":26,"t":30,"x":2136,"y":453},{"s":27,"t":30,"x":2179,"y":450},{"s":28,"t":30,"x":2224,"y":446},{"s":29,"t":30,"x":2268,"y":441},{"s":30,"t":30,"x":2312,"y":436},{"s":31,"t":30,"x":2358,"y":427},
{"s":0,"t":31,"x":1145,"y":34},{"s":1,"t":31,"x":1181,"y":65},{"s":2,"t":31,"x":1217,"y":94},{"s":3,"t":31,"x":1254,"y":123},{"s":4,"t":31,"x":1291,"y":150},{"s":5,"t":31,"x":1328,"y":175},{"s":6,"t":31,"x":1365,"y":197},{"s":7,"t":31,"x":1402,"y":218},{"s":8,"t":31,"x":1439,"y":239},{"s":9,"t":31,"x":1476,"y":258},{"s":10,"t":31,"x":1513,"y":276},{"s":11,"t":31,"x":1551,"y":293},{"s":12,"t":31,"x":1589,"y":308},{"s":13,"t":31,"x":1627,"y":322},{"s":14,"t":31,"x":1665,"y":335},{"s":15,"t":31,"x":1703,"y":347},{"s":16,"t":31,"x":1741,"y":357},{"s":17,"t":31,"x":1781,"y":367},{"s":18,"t":31,"x":1821,"y":375},{"s":19,"t":31,"x":1861,"y":382},{"s":20,"t":31,"x":1901,"y":389},{"s":21,"t":31,"x":1942,"y":394},{"s":22,"t":31,"x":1984,"y":397},{"s":23,"t":31,"x":2026,"y":399},{"s":24,"t":31,"x":2068,"y":400},{"s":25,"t":31,"x":2110,"y":399},{"s":26,"t":31,"x":2152,"y":397},{"s":27,"t":31,"x":2196,"y":392},{"s":28,"t":31,"x":2241,"y":386},{"s":29,"t":31,"x":2286,"y":379},{"s":30,"t":31,"x":2332,"y":371},{"s":31,"t":31,"x":2379,"y":360}
],"ticks":[
{"axis":"s","x":366,"y":1192,"x2":1757,"y2":1738},{"axis":"t","x":1757,"y":1738,"x2":2355,"y2":822},{"axis":"u","x":366,"y":1192,"x2":287,"y2":692},
{"axis":"s","x":392,"y":1202,"x2":410,"y2":1185},{"axis":"s","x":452,"y":1226,"x2":463,"y2":1214},{"axis":"s","x":512,"y":1249,"x2":523,"y2":1237},{"axis":"s","x":572,"y":1273,"x2":583,"y2":1261},{"axis":"s","x":633,"y":1297,"x2":644,"y2":1285},{"axis":"s","x":697,"y":1322,"x2":715,"y2":1303},{"axis":"s","x":761,"y":1347,"x2":772,"y2":1335},{"axis":"s","x":825,"y":1372,"x2":836,"y2":1360},{"axis":"s","x":890,"y":1398,"x2":901,"y2":1386},{"axis":"s","x":955,"y":1423,"x2":966,"y2":1411},{"axis":"s","x":1022,"y":1449,"x2":1040,"y2":1430},{"axis":"s","x":1087,"y":1475,"x2":1098,"y2":1463},{"axis":"s","x":1155,"y":1502,"x2":1165,"y2":1490},{"axis":"s","x":1223,"y":1528,"x2":1233,"y2":1516},{"axis":"s","x":1290,"y":1555,"x2":1300,"y2":1543},{"axis":"s","x":1361,"y":1583,"x2":1378,"y2":1562},{"axis":"s","x":1433,"y":1611,"x2":1443,"y2":1599},{"axis":"s","x":1504,"y":1639,"x2":1514,"y2":1627},{"axis":"s","x":1576,"y":1667,"x2":1586,"y2":1655},{"axis":"s","x":1651,"y":1696,"x2":1661,"y2":1684},{"axis":"s","x":1726,"y":1726,"x2":1739,"y2":1703},
{"axis":"t","x":1770,"y":1713,"x2":1739,"y2":1702},{"axis":"t","x":1839,"y":1608,"x2":1820,"y2":1602},{"axis":"t","x":1905,"y":1507,"x2":1886,"y2":1501},{"axis":"t","x":1968,"y":1411,"x2":1950,"y2":1405},{"axis":"t","x":2029,"y":1320,"x2":1998,"y2":1308},{"axis":"t","x":2087,"y":1229,"x2":2069,"y2":1225},{"axis":"t","x":2142,"y":1144,"x2":2124,"y2":1140},{"axis":"t","x":2195,"y":1063,"x2":2178,"y2":1058},{"axis":"t","x":2247,"y":984,"x2":2219,"y2":975},{"axis":"t","x":2296,"y":907,"x2":2279,"y2":903},{"axis":"t","x":2342,"y":837,"x2":2328,"y2":832},
{"axis":"u","x":288,"y":693,"x2":305,"y2":701},{"axis":"u","x":293,"y":720,"x2":320,"y2":730},{"axis":"u","x":297,"y":745,"x2":313,"y2":751},{"axis":"u","x":300,"y":769,"x2":317,"y2":776},{"axis":"u","x":305,"y":793,"x2":320,"y2":800},{"axis":"u","x":308,"y":817,"x2":324,"y2":824},{"axis":"u","x":313,"y":841,"x2":339,"y2":852},{"axis":"u","x":317,"y":866,"x2":331,"y2":871},{"axis":"u","x":320,"y":890,"x2":336,"y2":896},{"axis":"u","x":324,"y":913,"x2":339,"y2":919},{"axis":"u","x":328,"y":936,"x2":342,"y2":942},{"axis":"u","x":331,"y":960,"x2":357,"y2":970},{"axis":"u","x":334,"y":983,"x2":350,"y2":988},{"axis":"u","x":338,"y":1006,"x2":354,"y2":1012},{"axis":"u","x":342,"y":1029,"x2":357,"y2":1035},{"axis":"u","x":345,"y":1052,"x2":360,"y2":1058},{"axis":"u","x":349,"y":1075,"x2":374,"y2":1083},{"axis":"u","x":353,"y":1098,"x2":368,"y2":1102},{"axis":"u","x":356,"y":1119,"x2":371,"y2":1124},{"axis":"u","x":359,"y":1141,"x2":374,"y2":1146},{"axis":"u","x":363,"y":1163,"x2":378,"y2":1168},{"axis":"u","x":366,"y":1186,"x2":392,"y2":1194}
],"labels":[
{"label":"0.4","x":219,"y":719},{"label":"0.3","x":239,"y":839},{"label":"0.2","x":256,"y":956},{"label":"0.1","x":275,"y":1068},{"label":"0.0","x":293,"y":1177},{"label":"u(s,t)","x":103,"y":903},
{"label":"−1.0","x":304,"y":1283},{"label":"−0.5","x":612,"y":1407},{"label":"0.0","x":960,"y":1533},{"label":"0.5","x":1307,"y":1670},{"label":"1.0","x":1679,"y":1812},{"label":"s","x":906,"y":1627},
{"label":"0.0","x":1840,"y":1762},{"label":"0.2","x":2099,"y":1365},{"label":"0.4","x":2319,"y":1030},{"label":"t","x":2220,"y":1310}
]},
"encoding":{"x":{"field":"x","type":"quantitative","scale":{"domain":[0,2409],"nice":false,"zero":false},"axis":null},"y":{"field":"y","type":"quantitative","scale":{"domain":[0,1842],"reverse":true,"nice":false,"zero":false},"axis":null}},
"layer":[
{"data":{"name":"mesh"},"transform":[
{"calculate":"[0,1,2,3,4]","as":"k"},{"flatten":["k"]},
{"calculate":"datum.s-((datum.k==1||datum.k==2)?1:0)","as":"a"},
{"calculate":"datum.t-((datum.k==2||datum.k==3)?1:0)","as":"b"},
{"filter":"datum.a>=0&&datum.a<=30&&datum.b>=0&&datum.b<=30"},
{"calculate":"datum.a*100+datum.b","as":"cell"},
{"calculate":"pow(datum.a/30,1.5)*pow(datum.b/30,3)","as":"q"},
{"calculate":"(1-datum.a/30)*pow(datum.b/30,2)","as":"l"},
{"calculate":"datum.b%2==0?(datum.a%2==0?'rgb(0,'+round(221-100*datum.q-10*datum.l)+',0)':'rgb('+round(255-48*datum.q*datum.q-17*datum.l*pow(datum.b/30,2))+','+round(221-88*datum.q)+',0)'):(datum.a%2==0?'rgb(0,0,'+round(170-58*datum.q+50*datum.l)+')':'rgb(0,'+round(139-59*datum.q)+',0)')","as":"paint"}
],"mark":{"type":"line","stroke":"#414141","strokeWidth":2.2,"strokeJoin":"miter"},"encoding":{"detail":{"field":"cell","type":"nominal"},"fill":{"field":"paint","type":"nominal","scale":null,"legend":null},"order":{"field":"k","type":"quantitative"}}},
{"data":{"name":"mesh"},"transform":[{"filter":"datum.t==0"}],"mark":{"type":"line","stroke":"#000000","strokeWidth":2.5},"encoding":{"order":{"field":"s","type":"quantitative"}}},
{"data":{"name":"mesh"},"transform":[{"filter":"datum.t==31"}],"mark":{"type":"line","stroke":"#000000","strokeWidth":2.5},"encoding":{"order":{"field":"s","type":"quantitative"}}},
{"data":{"name":"mesh"},"transform":[{"filter":"datum.s==0"}],"mark":{"type":"line","stroke":"#000000","strokeWidth":2.5},"encoding":{"order":{"field":"t","type":"quantitative"}}},
{"data":{"name":"mesh"},"transform":[{"filter":"datum.s==31"}],"mark":{"type":"line","stroke":"#000000","strokeWidth":2.5},"encoding":{"order":{"field":"t","type":"quantitative"}}},
{"data":{"name":"ticks"},"mark":{"type":"rule","color":"#707070","strokeWidth":2.5},"encoding":{"x2":{"field":"x2"},"y2":{"field":"y2"}}},
{"data":{"name":"labels"},"mark":{"type":"text","font":"Liberation Sans","fontSize":65,"color":"#666666","align":"center","baseline":"alphabetic"},"encoding":{"text":{"field":"label","type":"nominal"}}}
]}
